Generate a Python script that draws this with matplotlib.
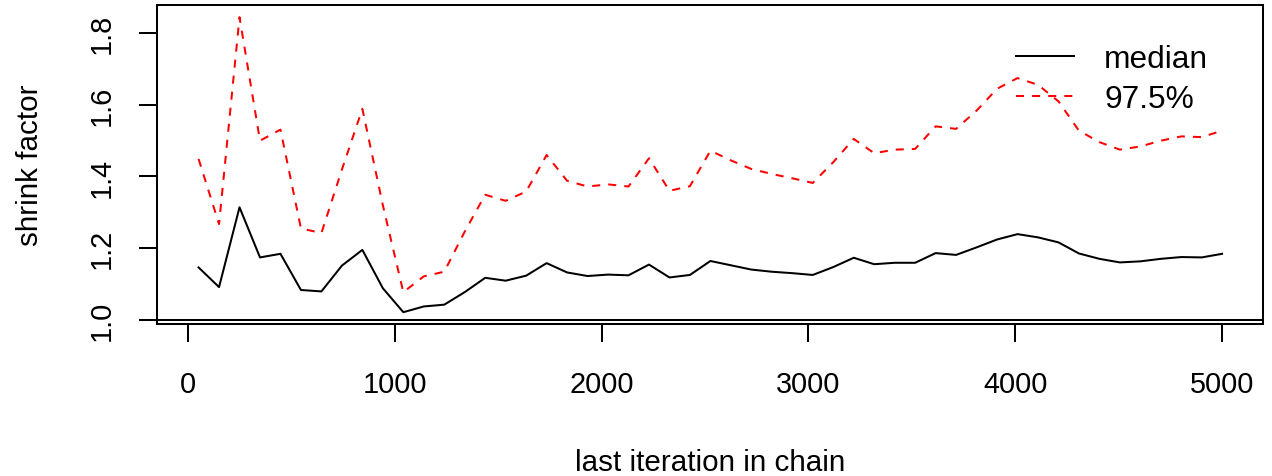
import numpy as np
import matplotlib
matplotlib.use('Agg')
import matplotlib.pyplot as plt

plt.rcParams['font.family'] = ['Liberation Sans', 'DejaVu Sans']

# last iteration in chain (51 bins)
last_iter = [51 + 99 * k for k in range(50)] + [5000]

median = [1.146, 1.091, 1.314, 1.174, 1.184, 1.083, 1.079, 1.151, 1.195, 1.088,
          1.021, 1.037, 1.042, 1.077, 1.117, 1.109, 1.123, 1.158, 1.132, 1.122,
          1.126, 1.124, 1.154, 1.118, 1.125, 1.164, 1.152, 1.140, 1.134, 1.130,
          1.125, 1.147, 1.173, 1.155, 1.159, 1.159, 1.186, 1.181, 1.202, 1.224,
          1.239, 1.230, 1.216, 1.185, 1.170, 1.160, 1.163, 1.170, 1.175, 1.174,
          1.184]

upper = [1.449, 1.267, 1.845, 1.500, 1.531, 1.255, 1.242, 1.419, 1.589, 1.320,
         1.077, 1.121, 1.134, 1.246, 1.349, 1.332, 1.358, 1.460, 1.388, 1.372,
         1.378, 1.372, 1.451, 1.360, 1.373, 1.472, 1.445, 1.421, 1.407, 1.395,
         1.382, 1.440, 1.505, 1.465, 1.475, 1.477, 1.540, 1.533, 1.584, 1.645,
         1.675, 1.656, 1.610, 1.528, 1.496, 1.475, 1.484, 1.500, 1.512, 1.510,
         1.528]

xticks = [0, 1000, 2000, 3000, 4000, 5000]
yticks = [1.0, 1.2, 1.4, 1.6, 1.8]

fs_tick = 20.8
fs_lab = 21.3
fs_leg = 22.8
lw = 1.45

fig = plt.figure(figsize=(12.72, 4.77), dpi=100)
ax = fig.add_axes([157 / 1272, 152 / 477, 1106 / 1272, 319 / 477])

ax.plot(last_iter, median, color='black', lw=lw, label='median')
ax.plot(last_iter, upper, color='red', lw=lw, dashes=(4, 4), label='97.5%')
ax.axhline(1.0, color='black', lw=lw)

ax.set_xlim(-150, 5198)
ax.set_ylim(0.988, 1.879)

ax.set_xticks(xticks)
ax.set_xticklabels([str(t) for t in xticks])
ax.set_yticks(yticks)
ax.set_yticklabels(['%.1f' % t for t in yticks], rotation=90, va='center')

ax.tick_params(axis='both', direction='out', length=13, width=lw, labelsize=fs_tick, colors='black')
ax.tick_params(axis='x', pad=20)
ax.tick_params(axis='y', pad=17)
for s in ax.spines.values():
    s.set_linewidth(lw)

ax.set_xlabel('last iteration in chain', fontsize=fs_lab, labelpad=36)
ax.set_ylabel('shrink factor', fontsize=fs_lab, labelpad=31)

ax.legend(loc='upper left', bbox_to_anchor=(0.7767, 0.877), frameon=False,
          fontsize=fs_leg, handlelength=1.83, handletextpad=0.95, labelspacing=0.3,
          borderpad=0, borderaxespad=0)

fig.savefig('out.png', dpi=100)
